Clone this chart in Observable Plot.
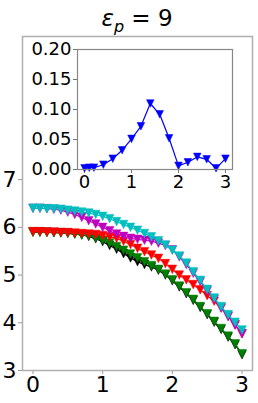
<!DOCTYPE html>
<html><head><meta charset="utf-8">
<script src="https://cdn.jsdelivr.net/npm/d3@7"></script>
<script src="https://cdn.jsdelivr.net/npm/@observablehq/plot@0.6"></script>
<style>
body{margin:0;background:#fff;}
#wrap{position:relative;width:258px;height:403px;font-family:"DejaVu Sans";overflow:hidden;}
#title{position:absolute;left:22px;width:230px;top:4px;text-align:center;font-size:23px;line-height:28px;color:#000;}
#title sub{font-size:16px;line-height:0;}
#main,#inset{position:absolute;left:0;top:0;}
</style></head><body>
<div id="wrap">
<div id="main"></div>
<div id="inset"></div>
<div id="title"><i>ε</i><sub><i>p</i></sub> = 9</div>
</div>
<script>
// x positions of the main curves
const xMain = [0,0.1,0.2,0.3,0.4,0.5,0.6,0.7,0.8,0.9,1.0,1.1,1.2,1.3,1.4,1.5,1.6,1.7,1.8,1.9,2.0,2.1,2.2,2.3,2.4,2.5,2.6,2.7,2.8,2.9,3.0];
const cyanY = [6.40,6.40,6.39,6.39,6.38,6.36,6.34,6.32,6.30,6.27,6.23,6.18,6.12,6.06,6.00,5.94,5.87,5.80,5.72,5.63,5.52,5.40,5.25,5.07,4.89,4.70,4.52,4.34,4.17,4.01,3.85];
const magentaY = [6.40,6.40,6.39,6.38,6.36,6.32,6.27,6.21,6.14,6.07,6.00,5.93,5.86,5.81,5.77,5.75,5.73,5.71,5.67,5.62,5.53,5.38,5.22,5.04,4.86,4.67,4.49,4.31,4.13,3.95,3.77];
const redY = [5.91,5.91,5.90,5.90,5.89,5.89,5.88,5.87,5.86,5.85,5.83,5.80,5.77,5.71,5.64,5.56,5.49,5.42,5.35,5.24,5.12,5.00,4.90,4.80,4.69,4.57,4.45,4.31,4.14,3.96,3.77];
const blackY = [5.90,5.90,5.90,5.89,5.89,5.88,5.86,5.84,5.81,5.76,5.70,5.62,5.54,5.45,5.36,5.28,5.22,5.17,5.10,5.00,4.88,4.75,4.61,4.47,4.32,4.17,4.01,3.86,3.70,3.54,3.33];
const greenY = [5.90,5.90,5.89,5.89,5.88,5.87,5.86,5.84,5.82,5.78,5.73,5.67,5.60,5.52,5.44,5.36,5.28,5.20,5.12,5.02,4.90,4.77,4.63,4.49,4.34,4.19,4.03,3.88,3.72,3.56,3.35];
// inset curve
const xInset = [0,0.1,0.2,0.4,0.6,0.8,1.0,1.2,1.4,1.6,1.8,2.0,2.2,2.4,2.6,2.8,3.0];
const blueY = [0.002,0.003,0.003,0.008,0.018,0.032,0.051,0.072,0.110,0.092,0.052,0.006,0.012,0.021,0.017,0.002,0.018];
// ticks
const mainXTicks = [0,1,2,3];
const mainYTicks = [3,4,5,6,7];
const insetXTicks = [0,1,2,3];
const insetYTicks = [0,0.05,0.10,0.15,0.20];

const triDown = {draw(ctx, size){ const r = Math.sqrt(size/Math.PI); ctx.moveTo(-r,-r); ctx.lineTo(r,-r); ctx.lineTo(0,r); ctx.closePath(); }};

const series = [
  {name:"black", color:"#000000", y:blackY},
  {name:"green", color:"#008000", y:greenY},
  {name:"red", color:"#ff0000", y:redY},
  {name:"magenta", color:"#bf00bf", y:magentaY},
  {name:"cyan", color:"#00bfbf", y:cyanY}
];
const seriesMarks = [];
for (const s of series) {
  const data = xMain.map((x,i)=>({x, y:s.y[i]}));
  seriesMarks.push(Plot.line(data,{x:"x",y:"y",stroke:s.color,strokeWidth:1.2}));
  seriesMarks.push(Plot.dot(data,{x:"x",y:"y",symbol:triDown,r:4.3,fill:s.color,stroke:s.color,strokeWidth:0.5}));
}

const main = Plot.plot({
  width:258, height:403,
  marginLeft:22, marginRight:6, marginTop:36, marginBottom:33,
  x:{domain:[-0.15,3.15]},
  y:{domain:[3,10]},
  style:{fontFamily:"DejaVu Sans", fontSize:"22px", background:"transparent", color:"#000", overflow:"visible"},
  marks:[
    Plot.axisX({ticks:mainXTicks, tickSize:4, tickPadding:2, stroke:"#999", fill:"#000", label:null, fontSize:22, tickFormat:d=>String(d)}),
    Plot.axisY({ticks:mainYTicks, tickSize:4, tickPadding:2, stroke:"#999", fill:"#000", label:null, fontSize:22, tickFormat:d=>String(d)}),
    ...seriesMarks,
    Plot.frame({stroke:"#b0b0b0", strokeWidth:1.5})
  ]
});
document.getElementById("main").appendChild(main);

const blueData = xInset.map((x,i)=>({x, y:blueY[i]}));
const inset = Plot.plot({
  width:258, height:403,
  marginLeft:77, marginRight:26, marginTop:49, marginBottom:234,
  x:{domain:[-0.15,3.15]},
  y:{domain:[0,0.2]},
  style:{fontFamily:"DejaVu Sans", fontSize:"18px", background:"transparent", color:"#000", overflow:"visible"},
  marks:[
    Plot.frame({fill:"white", stroke:"none"}),
    Plot.axisX({ticks:insetXTicks, tickSize:4, tickPadding:2, stroke:"#777", fill:"#000", label:null, fontSize:18, tickFormat:d=>String(d)}),
    Plot.axisY({ticks:insetYTicks, tickSize:4, tickPadding:2, stroke:"#777", fill:"#000", label:null, fontSize:18, tickFormat:d3.format(".2f")}),
    Plot.line(blueData,{x:"x",y:"y",stroke:"#0000ff",strokeWidth:1.2}),
    Plot.dot(blueData,{x:"x",y:"y",symbol:triDown,r:3.8,fill:"#0000ff",stroke:"#0000ff",strokeWidth:0.5}),
    Plot.frame({stroke:"#888", strokeWidth:1.2})
  ]
});
document.getElementById("inset").appendChild(inset);
</script>
</body></html>
